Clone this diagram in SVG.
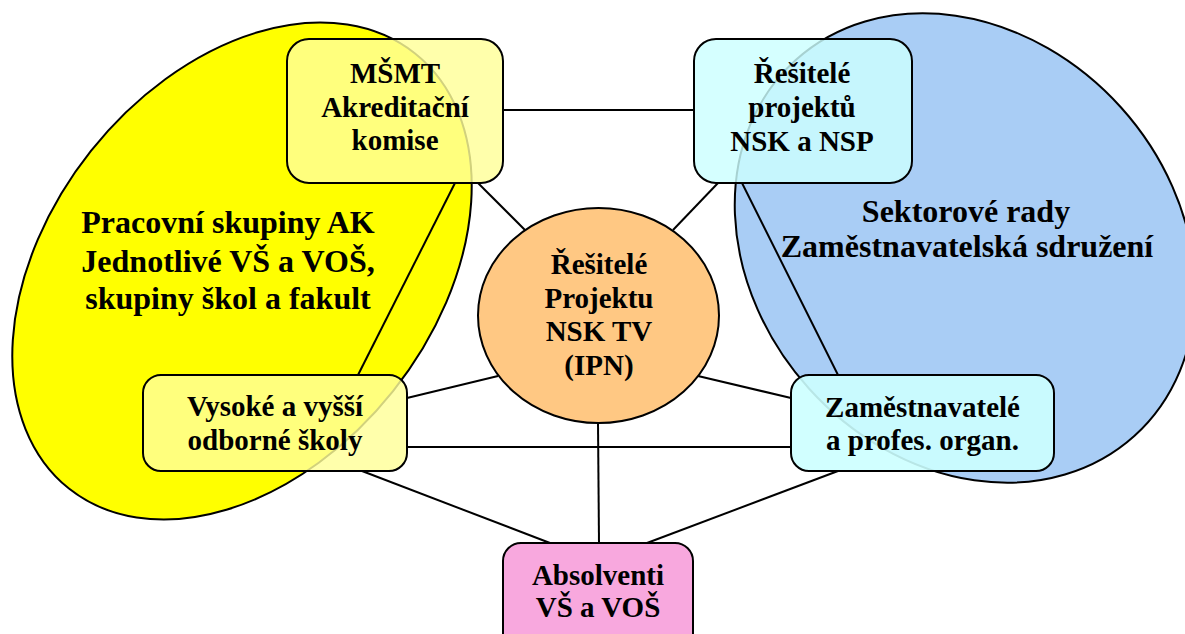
<svg xmlns="http://www.w3.org/2000/svg" width="1185" height="634" viewBox="0 0 1185 634">
<style>
.bg{stroke:#000;stroke-width:2}
.box{stroke:#000;stroke-width:2}
.lbl{font-family:"Liberation Serif","Times New Roman",serif;font-weight:bold;font-size:29px;fill:#000;text-anchor:middle}
.big{font-size:32px}
#connectors line{stroke:#000;stroke-width:2}
</style>
<rect width="1185" height="634" fill="#fff"/>
<g id="area-yellow">
<ellipse class="bg" cx="242" cy="271" rx="278" ry="193" transform="rotate(-51.5 242 271)" fill="#FFFF00"/>
<text class="lbl big" x="228" y="233">Pracovní skupiny AK</text>
<text class="lbl big" x="228" y="272">Jednotlivé VŠ a VOŠ,</text>
<text class="lbl big" x="228" y="309">skupiny škol a fakult</text>
</g>
<g id="area-blue">
<ellipse class="bg" cx="965" cy="248" rx="253" ry="210" transform="rotate(48 965 248)" fill="#A9CDF5"/>
<text class="lbl big" x="966" y="222">Sektorové rady</text>
<text class="lbl big" x="967" y="257">Zaměstnavatelská sdružení</text>
</g>
<g id="connectors">
<line x1="503" y1="110" x2="694" y2="110"/>
<line x1="478" y1="183" x2="525" y2="230"/>
<line x1="718" y1="183" x2="673" y2="230"/>
<line x1="455" y1="183" x2="358" y2="375"/>
<line x1="742" y1="183" x2="838" y2="375"/>
<line x1="407" y1="398" x2="498" y2="376"/>
<line x1="698" y1="376" x2="791" y2="398"/>
<line x1="407" y1="447" x2="791" y2="447"/>
<line x1="598" y1="423" x2="599" y2="543"/>
<line x1="362" y1="471" x2="550" y2="543"/>
<line x1="838" y1="471" x2="647" y2="543"/>
</g>
<g id="msmt">
<rect class="box" x="287" y="39" width="216" height="144" rx="22" fill="#FFFF99" fill-opacity="0.82"/>
<text class="lbl" x="395" y="83">MŠMT</text>
<text class="lbl" x="395" y="117">Akreditační</text>
<text class="lbl" x="395" y="150">komise</text>
</g>
<g id="resitele-nsk-nsp">
<rect class="box" x="694" y="39" width="218" height="144" rx="22" fill="#CCFFFF" fill-opacity="0.82"/>
<text class="lbl" x="802" y="83">Řešitelé</text>
<text class="lbl" x="802" y="117">projektů</text>
<text class="lbl" x="802" y="151">NSK a NSP</text>
</g>
<g id="resitele-ipn">
<ellipse class="box" cx="598.5" cy="315.5" rx="120.5" ry="107.5" fill="#FFC883"/>
<text class="lbl" x="599" y="274">Řešitelé</text>
<text class="lbl" x="599" y="308">Projektu</text>
<text class="lbl" x="599" y="341">NSK TV</text>
<text class="lbl" x="599" y="375">(IPN)</text>
</g>
<g id="skoly">
<rect class="box" x="143" y="375" width="264" height="96" rx="18" fill="#FFFF99" fill-opacity="0.82"/>
<text class="lbl" x="275" y="416">Vysoké a vyšší</text>
<text class="lbl" x="275" y="450">odborné školy</text>
</g>
<g id="zamestnavatele">
<rect class="box" x="791" y="375" width="263" height="96" rx="18" fill="#CCFFFF" fill-opacity="0.9"/>
<text class="lbl" x="922.5" y="417">Zaměstnavatelé</text>
<text class="lbl" x="922.5" y="450">a profes. organ.</text>
</g>
<g id="absolventi">
<rect class="box" x="503" y="543" width="190" height="110" rx="18" fill="#F8A8DE"/>
<text class="lbl" x="598" y="585">Absolventi</text>
<text class="lbl" x="598" y="617">VŠ a VOŠ</text>
</g>
</svg>
